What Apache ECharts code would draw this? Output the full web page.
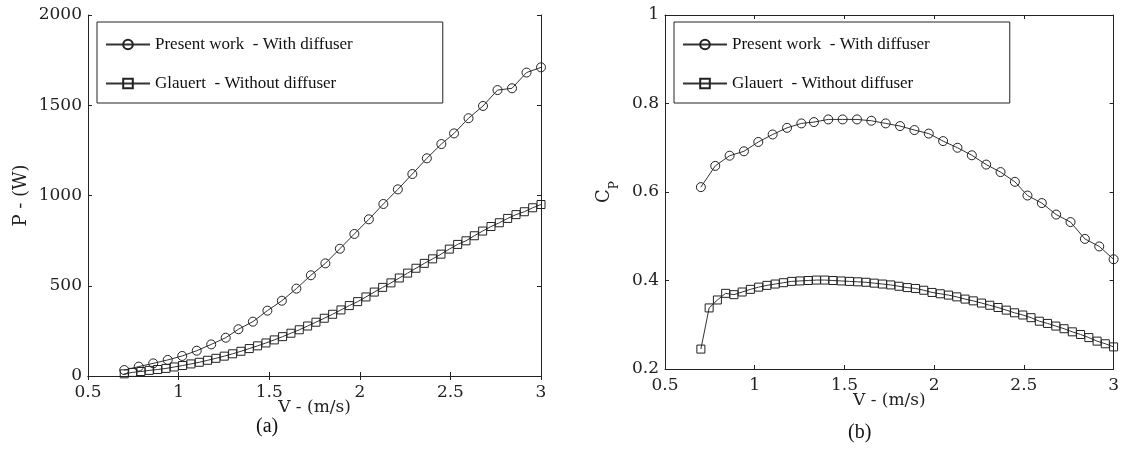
<!DOCTYPE html>
<html>
<head>
<meta charset="utf-8">
<script src="https://cdn.jsdelivr.net/npm/echarts@6/dist/echarts.min.js"></script>
<style>
  html, body { margin: 0; padding: 0; background: #fff; }
  #chart { width: 1122px; height: 463px; }
</style>
</head>
<body>
<div id="chart"></div>
<script>
// wind speed (m/s) for both curves
const vPresent = [0.70, 0.78, 0.86, 0.94, 1.02, 1.10, 1.18, 1.26, 1.33, 1.41, 1.49, 1.57, 1.65, 1.73, 1.81,
  1.89, 1.97, 2.05, 2.13, 2.21, 2.29, 2.37, 2.45, 2.52, 2.60, 2.68, 2.76, 2.84, 2.92, 3.00];
const vGlauert = [0.700, 0.746, 0.792, 0.838, 0.884, 0.930, 0.976, 1.022, 1.068, 1.114, 1.160, 1.206, 1.252,
  1.298, 1.344, 1.390, 1.436, 1.482, 1.528, 1.574, 1.620, 1.666, 1.712, 1.758, 1.804, 1.850, 1.896, 1.942,
  1.988, 2.034, 2.080, 2.126, 2.172, 2.218, 2.264, 2.310, 2.356, 2.402, 2.448, 2.494, 2.540, 2.586, 2.632,
  2.678, 2.724, 2.770, 2.816, 2.862, 2.908, 2.954, 3.000];

// (a) power, W
const pPresent = [33, 52, 70, 89, 111, 140, 175, 212, 259, 301, 362, 417, 484, 558, 624, 705, 787, 868, 953,
  1034, 1119, 1206, 1285, 1344, 1428, 1496, 1584, 1594, 1681, 1710];
const pGlauert = [12, 20, 25, 31, 36, 42, 50, 58, 67, 76, 87, 98, 110, 123, 137, 152, 167, 183, 200, 218, 237,
  256, 277, 298, 320, 342, 366, 390, 412, 438, 465, 491, 516, 543, 570, 597, 624, 649, 675, 703, 729, 749,
  777, 803, 828, 849, 873, 894, 910, 932, 950];

// (b) power coefficient
const cpPresent = [0.611, 0.659, 0.682, 0.692, 0.713, 0.730, 0.745, 0.755, 0.758, 0.764, 0.764, 0.764, 0.761,
  0.755, 0.749, 0.740, 0.732, 0.715, 0.700, 0.683, 0.662, 0.645, 0.623, 0.592, 0.575, 0.549, 0.532, 0.494,
  0.477, 0.448];
const cpGlauert = [0.245, 0.338, 0.356, 0.371, 0.368, 0.374, 0.380, 0.385, 0.389, 0.392, 0.395, 0.398, 0.399,
  0.400, 0.401, 0.401, 0.400, 0.399, 0.398, 0.397, 0.396, 0.394, 0.392, 0.390, 0.387, 0.384, 0.382, 0.378,
  0.373, 0.370, 0.367, 0.363, 0.358, 0.354, 0.349, 0.344, 0.339, 0.333, 0.327, 0.322, 0.316, 0.308, 0.303,
  0.297, 0.291, 0.284, 0.278, 0.271, 0.263, 0.257, 0.250];

const namePresent = "Present work  - With diffuser";
const nameGlauert = "Glauert  - Without diffuser";

const ink = "#222";
const tickFont = { fontFamily: "DejaVu Serif", fontSize: 17, color: ink };

function pairs(xs, ys) {
  return xs.map((x, i) => [x, ys[i]]);
}

// bottom/left axes with labels, top/right axes only for the inside ticks
function xAx(grid, pos, title) {
  return {
    type: "value", gridIndex: grid, position: pos, min: 0.5, max: 3, interval: 0.5,
    axisLine: { lineStyle: { color: ink, width: 1 } },
    axisTick: { inside: true, length: 4, lineStyle: { color: ink } },
    axisLabel: { show: pos === "bottom", margin: 8, ...tickFont },
    splitLine: { show: false },
    name: title, nameLocation: "middle", nameGap: 23, nameMoveOverlap: false,
    nameTextStyle: { fontFamily: "DejaVu Serif", fontSize: 17, color: ink },
  };
}
function yAx(grid, pos, min, max, step, title, gap, rich) {
  return {
    type: "value", gridIndex: grid, position: pos, min: min, max: max, interval: step,
    axisLine: { show: true, lineStyle: { color: ink, width: 1 } },
    axisTick: { show: true, inside: true, length: 4, lineStyle: { color: ink } },
    axisLabel: { show: pos === "left", margin: 6, formatter: (v) => String(+v.toFixed(1)), ...tickFont },
    splitLine: { show: false },
    name: title, nameLocation: "middle", nameGap: gap, nameRotate: 90, nameMoveOverlap: false,
    nameTextStyle: { fontFamily: "DejaVu Serif", fontSize: 18, color: ink, rich: rich },
  };
}

function line(name, sym, size, x, y, xi, yi) {
  return {
    name: name, type: "line", xAxisIndex: xi, yAxisIndex: yi,
    data: pairs(x, y), symbol: sym, symbolSize: size, showSymbol: true,
    lineStyle: { color: "#333", width: 1 },
    itemStyle: { color: "transparent", borderColor: ink, borderWidth: 1 },
    emphasis: { disabled: true }, animation: false,
  };
}

function legendAt(left, right) {
  return {
    left: left, top: 22, orient: "vertical", itemWidth: 44, itemHeight: 12, itemGap: 22,
    padding: [14, right, 11, 8], borderColor: ink, borderWidth: 1, backgroundColor: "#fff",
    textStyle: { fontFamily: "Liberation Serif", fontSize: 17, color: "#111" },
    data: [namePresent, nameGlauert],
  };
}

const chart = echarts.init(document.getElementById("chart"));
chart.setOption({
  backgroundColor: "#fff",
  animation: false,
  grid: [
    { left: 88, top: 15, width: 453, height: 361 },
    { left: 665, top: 15, width: 450, height: 354 },
  ],
  xAxis: [
    xAx(0, "bottom", "V - (m/s)"),
    xAx(1, "bottom", "V - (m/s)"),
    xAx(0, "top", ""),
    xAx(1, "top", ""),
  ],
  yAxis: [
    yAx(0, "left", 0, 2000, 500, "P - (W)", 58),
    yAx(1, "left", 0.2, 1, 0.2, "{c|C}{p|P}", 44, {
      c: { fontFamily: "DejaVu Serif", fontSize: 18, color: ink, lineHeight: 26, verticalAlign: "top" },
      p: { fontFamily: "DejaVu Serif", fontSize: 12, color: ink, lineHeight: 12, verticalAlign: "bottom" },
    }),
    yAx(0, "right", 0, 2000, 500, "", 0),
    yAx(1, "right", 0.2, 1, 0.2, "", 0),
  ],
  legend: [legendAt(97, 90), legendAt(674, 80)],
  series: [
    line(namePresent, "circle", 9, vPresent, pPresent, 0, 0),
    line(nameGlauert, "rect", 8, vGlauert, pGlauert, 0, 0),
    line(namePresent, "circle", 9, vPresent, cpPresent, 1, 1),
    line(nameGlauert, "rect", 8, vGlauert, cpGlauert, 1, 1),
  ],
  graphic: [
    { type: "text", left: 256, top: 417, style: { text: "(a)", font: "20px 'Liberation Serif'", fill: "#111" } },
    { type: "text", left: 848, top: 423, style: { text: "(b)", font: "20px 'Liberation Serif'", fill: "#111" } },
  ],
});
</script>
</body>
</html>
